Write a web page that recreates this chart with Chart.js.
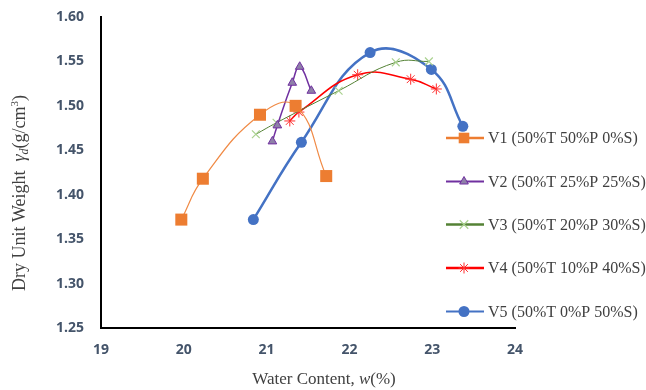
<!DOCTYPE html>
<html>
<head>
<meta charset="utf-8">
<script src="https://cdn.jsdelivr.net/npm/chart.js@4.4.0/dist/chart.umd.min.js"></script>
<style>
  html, body { margin: 0; padding: 0; background: #fff; }
  #wrap { width: 646px; height: 390px; }
</style>
</head>
<body>
<div id="wrap"><canvas id="c" width="646" height="390"></canvas></div>
<script>
// ---- Data ----
const seriesNames = [
  "V1 (50%T 50%P 0%S)",
  "V2 (50%T 25%P 25%S)",
  "V3 (50%T 20%P 30%S)",
  "V4 (50%T 10%P 40%S)",
  "V5 (50%T 0%P 50%S)"
];
const v1Water = [19.97, 20.23, 20.92, 21.35, 21.72];
const v1Density = [1.372, 1.418, 1.490, 1.500, 1.421];
const v2Water = [21.07, 21.13, 21.31, 21.40, 21.54];
const v2Density = [1.460, 1.478, 1.526, 1.544, 1.517];
const v3Water = [20.87, 21.12, 21.87, 22.56, 22.96];
const v3Density = [1.468, 1.481, 1.517, 1.549, 1.550];
const v4Water = [21.28, 21.39, 22.10, 22.74, 23.05];
const v4Density = [1.483, 1.493, 1.535, 1.530, 1.519];
const v5Water = [20.84, 21.42, 22.25, 22.99, 23.37];
const v5Density = [1.372, 1.459, 1.560, 1.541, 1.477];
const xTicks = [19, 20, 21, 22, 23, 24];
const yTicks = [1.25, 1.30, 1.35, 1.40, 1.45, 1.50, 1.55, 1.60];

function pts(xs, ys) { return xs.map((x, i) => ({ x: x, y: ys[i] })); }

const datasets = [
  { label: seriesNames[0], data: pts(v1Water, v1Density), tension: 0.45,
    borderColor: '#F08A45', borderWidth: 1.2, pointStyle: 'rect', pointRadius: 8.5,
    pointBackgroundColor: '#ED7D31', pointBorderColor: '#ED7D31', pointBorderWidth: 0,
    legendRadius: 7.5, legendLine: '#ED7D31', legendLineWidth: 2.5 },
  { label: seriesNames[1], data: pts(v2Water, v2Density), tension: 0.45,
    borderColor: '#7030A0', borderWidth: 1.5, pointStyle: 'triangle', pointRadius: 5,
    pointBackgroundColor: '#8E80A8', pointBorderColor: '#7030A0', pointBorderWidth: 1,
    legendRadius: 5, legendLine: '#7030A0', legendLineWidth: 2 },
  { label: seriesNames[2], data: pts(v3Water, v3Density), tension: 0.45,
    borderColor: '#548235', borderWidth: 1, pointStyle: 'crossRot', pointRadius: 5.5,
    pointBackgroundColor: '#A9D18E', pointBorderColor: '#A9D18E', pointBorderWidth: 1.2,
    legendRadius: 6, legendLine: '#548235', legendLineWidth: 2.5 },
  { label: seriesNames[3], data: pts(v4Water, v4Density), tension: 0.45,
    borderColor: '#FF0000', borderWidth: 1.5, pointStyle: 'star', pointRadius: 5.5,
    pointBackgroundColor: '#FF4040', pointBorderColor: '#FF3030', pointBorderWidth: 1,
    legendRadius: 5.5, legendLine: '#FF0000', legendLineWidth: 2.5 },
  { label: seriesNames[4], data: pts(v5Water, v5Density), tension: 0.42,
    borderColor: '#4472C4', borderWidth: 2.5, pointStyle: 'circle', pointRadius: 5.5,
    pointBackgroundColor: '#4472C4', pointBorderColor: '#4472C4', pointBorderWidth: 0,
    legendRadius: 5.5, legendLine: '#4472C4', legendLineWidth: 2 }
];
datasets.forEach(d => { d.showLine = true; d.fill = false; d.pointHoverRadius = d.pointRadius; });

const CHART_LEFT = 101, CHART_RIGHT_PAD = 131, CHART_TOP = 17, X_AXIS_HEIGHT = 62;
const SERIF = '"Liberation Serif", "DejaVu Serif", serif';

const titlesPlugin = {
  id: 'titles',
  afterDraw(chart) {
    const ctx = chart.ctx;
    ctx.save();
    ctx.fillStyle = '#404040';
    ctx.textBaseline = 'alphabetic';
    ctx.textAlign = 'left';
    // X title
    const segX = [
      { t: 'Water Content, ', f: '17px ' + SERIF },
      { t: 'w', f: 'italic 17px ' + SERIF },
      { t: '(%)', f: '17px ' + SERIF }
    ];
    let w = 0;
    segX.forEach(s => { ctx.font = s.f; s.w = ctx.measureText(s.t).width; w += s.w; });
    let x = 324 - w / 2;
    segX.forEach(s => { ctx.font = s.f; ctx.fillText(s.t, x, 384); x += s.w; });

    // Y title (rotated)
    ctx.translate(25, 193);
    ctx.rotate(-Math.PI / 2);
    const segY = [
      { t: 'Dry Unit Weight  ', f: '18px ' + SERIF, dy: 0 },
      { t: 'γ', f: 'italic 18px ' + SERIF, dy: 0 },
      { t: 'd', f: 'italic 12px ' + SERIF, dy: 3 },
      { t: '(g/cm', f: '18px ' + SERIF, dy: 0 },
      { t: '3', f: '11px ' + SERIF, dy: -7 },
      { t: ')', f: '18px ' + SERIF, dy: 0 }
    ];
    w = 0;
    segY.forEach(s => { ctx.font = s.f; s.w = ctx.measureText(s.t).width; w += s.w; });
    x = -w / 2;
    segY.forEach(s => { ctx.font = s.f; ctx.fillText(s.t, x, s.dy); x += s.w; });
    ctx.restore();
  }
};

const legendPlugin = {
  id: 'customLegend',
  afterDraw(chart) {
    const ctx = chart.ctx;
    const ys = [138, 181.5, 224.5, 268, 311.5];
    ctx.save();
    chart.data.datasets.forEach((d, i) => {
      const y = ys[i];
      ctx.strokeStyle = d.legendLine;
      ctx.lineWidth = d.legendLineWidth;
      ctx.beginPath();
      ctx.moveTo(446, y);
      ctx.lineTo(484, y);
      ctx.stroke();
      ctx.fillStyle = d.pointBackgroundColor;
      ctx.strokeStyle = d.pointBorderColor;
      ctx.lineWidth = d.pointBorderWidth || 0;
      Chart.helpers.drawPoint(ctx, { pointStyle: d.pointStyle, radius: d.legendRadius, rotation: 0, borderWidth: d.pointBorderWidth }, 464, y);
      ctx.fillStyle = '#404040';
      ctx.font = '16px ' + SERIF;
      ctx.textBaseline = 'middle';
      ctx.textAlign = 'left';
      ctx.fillText(d.label, 488, y + 1);
    });
    ctx.restore();
  }
};

const tickFont = { family: '"Open Sans", "Noto Sans", sans-serif', size: 14, weight: 'bold' };

new Chart(document.getElementById('c'), {
  type: 'scatter',
  data: { datasets: datasets },
  options: {
    responsive: false,
    animation: false,
    layout: { padding: { left: 0, right: CHART_RIGHT_PAD, top: CHART_TOP, bottom: 0 } },
    plugins: { legend: { display: false }, tooltip: { enabled: false } },
    scales: {
      x: {
        type: 'linear', min: xTicks[0], max: xTicks[xTicks.length - 1],
        afterBuildTicks(scale) { scale.ticks = xTicks.map(v => ({ value: v })); },
        afterFit(scale) { scale.height = X_AXIS_HEIGHT; scale.paddingLeft = 0; scale.paddingRight = 0; },
        grid: { display: false, drawTicks: false },
        border: { display: true, color: '#000', width: 2 },
        ticks: { color: '#44546A', font: tickFont, padding: 14, maxRotation: 0,
          callback: v => String(v) }
      },
      y: {
        type: 'linear', min: yTicks[0], max: yTicks[yTicks.length - 1],
        afterBuildTicks(scale) { scale.ticks = yTicks.map(v => ({ value: v })); },
        afterFit(scale) { scale.width = CHART_LEFT; scale.paddingTop = 0; scale.paddingBottom = 0; },
        grid: { display: false, drawTicks: false },
        border: { display: true, color: '#000', width: 2 },
        ticks: { color: '#44546A', font: tickFont, padding: 17,
          callback: v => Number(v).toFixed(2) }
      }
    }
  },
  plugins: [titlesPlugin, legendPlugin]
});
</script>
</body>
</html>
